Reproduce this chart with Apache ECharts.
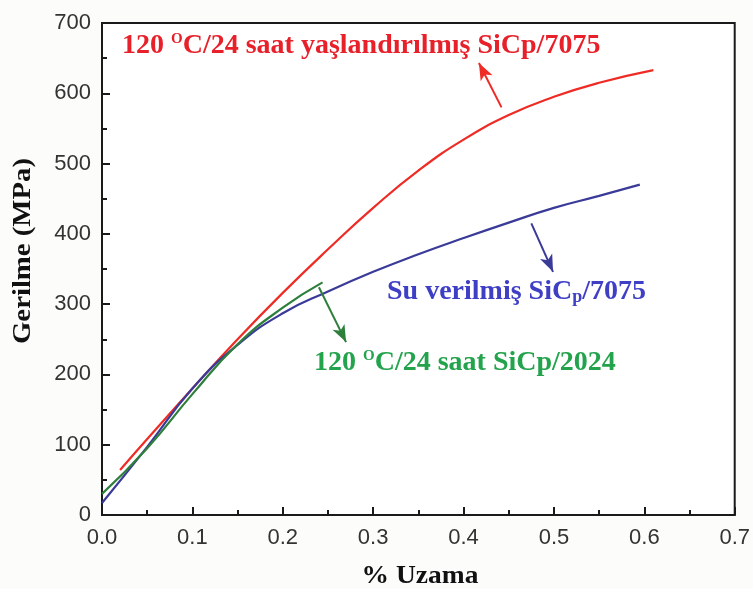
<!DOCTYPE html>
<html>
<head>
<meta charset="utf-8">
<script src="https://cdn.jsdelivr.net/npm/echarts@6/dist/echarts.min.js"></script>
<style>
  html, body { margin: 0; padding: 0; background: #fcfcfa; }
  #chart { width: 753px; height: 589px; }
</style>
</head>
<body>
<div id="chart"></div>
<script>
// Stress–strain curves: [% elongation, stress in MPa]
const agedSiCp7075 = [
  [0.02, 64], [0.05, 108], [0.1, 180], [0.15, 250], [0.2, 316], [0.25, 378],
  [0.3, 437], [0.35, 490], [0.4, 534], [0.45, 569], [0.5, 595], [0.55, 615], [0.61, 633]
];
const quenchedSiCp7075 = [
  [0.0, 17], [0.05, 97], [0.1, 180], [0.15, 242], [0.2, 287], [0.25, 318],
  [0.3, 346], [0.35, 371], [0.4, 394], [0.45, 416], [0.5, 437], [0.55, 454], [0.595, 470]
];
const agedSiCp2024 = [
  [0.0, 30], [0.05, 95], [0.1, 172], [0.15, 243], [0.2, 295], [0.244, 331]
];

// Pointer arrows from each curve toward its caption: [start, tip]
const agedArrow = [[0.442, 580], [0.417, 643]];
const quenchedArrow = [[0.475, 415], [0.499, 346]];
const aged2024Arrow = [[0.240, 324], [0.270, 246]];

const xTicks = { min: 0, max: 0.7, step: 0.1 };
const yTicks = { min: 0, max: 700, step: 100 };

const RED = '#ee2b25';
const BLUE = '#3a3a98';
const GREEN = '#2e7f3c';
const serif = '"Liberation Serif", "Times New Roman", serif';
const sans = '"Liberation Sans", Arial, sans-serif';

function arrowLine(pair, color) {
  return {
    silent: true,
    symbol: ['none', 'arrow'],
    symbolSize: [10, 17],
    label: { show: false },
    lineStyle: { color: color, width: 2, type: 'solid' },
    data: [[{ coord: pair[0] }, { coord: pair[1] }]]
  };
}

function curve(name, data, color, arrow) {
  return {
    name: name,
    type: 'line',
    data: data,
    smooth: 0.5,
    showSymbol: false,
    lineStyle: { color: color, width: 2.2 },
    markLine: arrowLine(arrow, color)
  };
}

const chart = echarts.init(document.getElementById('chart'));
chart.setOption({
  backgroundColor: '#fcfcfa',
  animation: false,
  grid: {
    left: 102, right: 16, top: 23, bottom: 74,
    show: true, borderColor: '#1a1a1a', borderWidth: 2, backgroundColor: '#ffffff'
  },
  xAxis: {
    type: 'value',
    min: xTicks.min, max: xTicks.max, interval: xTicks.step,
    axisLine: { show: true, lineStyle: { color: '#1a1a1a', width: 2 } },
    axisTick: { show: true, inside: true, length: 8, lineStyle: { color: '#1a1a1a', width: 2 } },
    minorTick: { show: true, splitNumber: 2, length: 5, lineStyle: { color: '#1a1a1a', width: 2 } },
    splitLine: { show: false },
    axisLabel: {
      margin: 12, fontFamily: sans, fontSize: 22, color: '#333',
      formatter: v => v.toFixed(1)
    }
  },
  yAxis: {
    type: 'value',
    min: yTicks.min, max: yTicks.max, interval: yTicks.step,
    axisLine: { show: true, lineStyle: { color: '#1a1a1a', width: 2 } },
    axisTick: { show: true, inside: true, length: 8, lineStyle: { color: '#1a1a1a', width: 2 } },
    minorTick: { show: true, splitNumber: 2, length: 5, lineStyle: { color: '#1a1a1a', width: 2 } },
    splitLine: { show: false },
    axisLabel: { margin: 11, fontFamily: sans, fontSize: 22, color: '#333' }
  },
  graphic: [
    {
      type: 'text', left: 122, top: 32, silent: true,
      style: {
        text: '{n|120 }{s|O}{n|C/24 saat yaşlandırılmış SiCp/7075}',
        rich: {
          n: { fontFamily: serif, fontWeight: 'bold', fontSize: 28, fill: '#e8202a' },
          s: { fontFamily: serif, fontWeight: 'bold', fontSize: 15, fill: '#e8202a', verticalAlign: 'top' }
        }
      }
    },
    {
      type: 'text', left: 387, top: 278, silent: true,
      style: {
        text: '{n|Su verilmiş SiC}{p|p}{n|/7075}',
        rich: {
          n: { fontFamily: serif, fontWeight: 'bold', fontSize: 28, fill: '#3f3fc6' },
          p: { fontFamily: serif, fontWeight: 'bold', fontSize: 18, fill: '#3f3fc6', verticalAlign: 'bottom', padding: [10, 0, 0, 0] }
        }
      }
    },
    {
      type: 'text', left: 314, top: 349, silent: true,
      style: {
        text: '{n|120 }{s|O}{n|C/24 saat SiCp/2024}',
        rich: {
          n: { fontFamily: serif, fontWeight: 'bold', fontSize: 28, fill: '#22a34c' },
          s: { fontFamily: serif, fontWeight: 'bold', fontSize: 15, fill: '#22a34c', verticalAlign: 'top' }
        }
      }
    },
    {
      type: 'text', x: 24, y: 251, rotation: Math.PI / 2, silent: true,
      style: {
        text: 'Gerilme (MPa)', align: 'center', verticalAlign: 'middle',
        fontFamily: serif, fontWeight: 'bold', fontSize: 25, fill: '#111'
      },
      scaleX: 1.15
    },
    {
      type: 'text', x: 420, y: 577, silent: true,
      style: {
        text: '% Uzama', align: 'center', verticalAlign: 'middle',
        fontFamily: serif, fontWeight: 'bold', fontSize: 25, fill: '#111'
      },
      scaleX: 1.1
    }
  ],
  series: [
    curve('120 °C/24 saat yaşlandırılmış SiCp/7075', agedSiCp7075, RED, agedArrow),
    curve('Su verilmiş SiCp/7075', quenchedSiCp7075, BLUE, quenchedArrow),
    curve('120 °C/24 saat SiCp/2024', agedSiCp2024, GREEN, aged2024Arrow)
  ]
});
</script>
</body>
</html>
